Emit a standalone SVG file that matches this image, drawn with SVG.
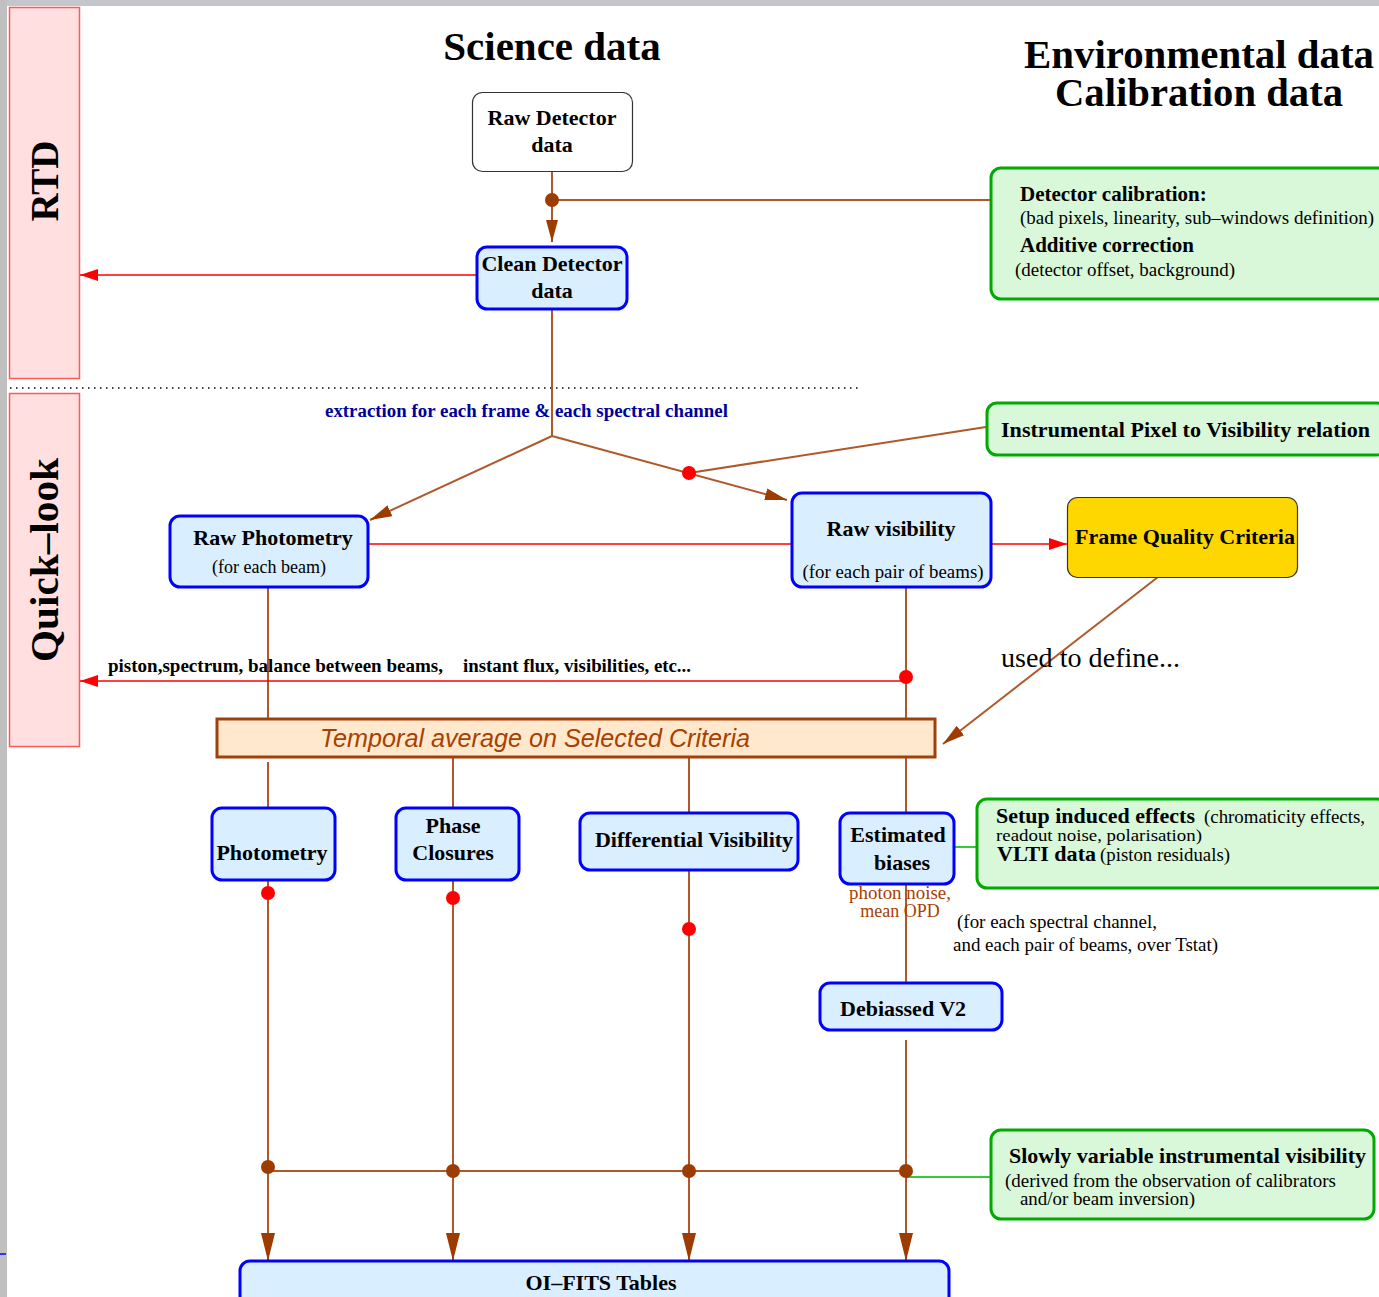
<svg xmlns="http://www.w3.org/2000/svg" width="1379" height="1297" viewBox="0 0 1379 1297">
<defs>
<style>
.bg{fill:#ffffff}
.side{fill:#ffdfdf;stroke:#ff5a5a;stroke-width:1.5}
.blue{fill:#d9eeff;stroke:#0000ff;stroke-width:3}
.green{fill:#d9f7d9;stroke:#00aa00;stroke-width:3}
.br{stroke:#b0582a;stroke-width:2;fill:none}
.red{stroke:#ff0000;stroke-width:1.5;fill:none}
.grn{stroke:#33cc33;stroke-width:2;fill:none}
.t{font-family:"Liberation Serif","Times New Roman",serif;fill:#000}
.b{font-weight:bold}
.dotb{fill:#9c3c00}
.dotr{fill:#ff0000}
</style>
<marker id="ab" markerWidth="28" markerHeight="14" refX="28" refY="7" orient="auto" markerUnits="userSpaceOnUse"><path d="M0,0 L28,7 L0,14 z" fill="#9c3c00"/></marker>
<marker id="abs" markerWidth="22" markerHeight="12" refX="22" refY="6" orient="auto" markerUnits="userSpaceOnUse"><path d="M0,0 L22,6 L0,12 z" fill="#9c3c00"/></marker>
<marker id="ar" markerWidth="18" markerHeight="12" refX="18" refY="6" orient="auto" markerUnits="userSpaceOnUse"><path d="M0,0 L18,6 L0,12 z" fill="#ff0000"/></marker>
</defs>
<rect class="bg" x="0" y="0" width="1379" height="1297"/>
<rect x="0" y="0" width="1379" height="6" fill="#c4c6cc"/>
<rect x="0" y="0" width="7" height="1297" fill="#c0c0c0"/>
<line x1="0" y1="1254" x2="6" y2="1254" stroke="#3333ff" stroke-width="2"/>

<g id="rtd">
<rect class="side" x="9.5" y="7.5" width="70" height="371"/>
<text class="t b" font-size="39" text-anchor="middle" transform="translate(58,181) rotate(-90)">RTD</text>
</g>
<line x1="10" y1="388" x2="862" y2="388" stroke="#000" stroke-width="1.5" stroke-dasharray="1.5,4.5"/>
<g id="quicklook">
<rect class="side" x="9.5" y="393.5" width="70" height="353"/>
<text class="t b" font-size="40" text-anchor="middle" transform="translate(58,560) rotate(-90)" textLength="204" lengthAdjust="spacingAndGlyphs">Quick–look</text>
</g>

<g id="titles">
<text class="t b" font-size="41" x="552" y="60" text-anchor="middle">Science data</text>
<text class="t b" font-size="40" x="1199" y="68" text-anchor="middle" textLength="350" lengthAdjust="spacingAndGlyphs">Environmental data</text>
<text class="t b" font-size="40" x="1199" y="106" text-anchor="middle" textLength="288" lengthAdjust="spacingAndGlyphs">Calibration data</text>
</g>

<g id="connectors">
<line class="br" x1="552" y1="171" x2="552" y2="242" marker-end="url(#abs)"/>
<line class="br" x1="552" y1="200" x2="990" y2="200"/>
<circle class="dotb" cx="552" cy="200" r="7"/>
<line class="red" x1="477" y1="275" x2="80" y2="275" marker-end="url(#ar)"/>
<line class="br" x1="552" y1="309" x2="552" y2="436"/>
<line class="br" x1="552" y1="436" x2="370" y2="520" marker-end="url(#abs)"/>
<line class="br" x1="552" y1="436" x2="787" y2="500" marker-end="url(#abs)"/>
<line class="br" x1="689" y1="473" x2="986" y2="427"/>
<circle class="dotr" cx="689" cy="473" r="7"/>
<line class="red" x1="368" y1="544" x2="792" y2="544"/>
<line class="red" x1="991" y1="544" x2="1067" y2="544" marker-end="url(#ar)"/>
<line class="br" x1="1158" y1="577" x2="943" y2="744" marker-end="url(#abs)"/>
<line class="br" x1="268" y1="587" x2="268" y2="719"/>
<line class="br" x1="906" y1="587" x2="906" y2="719"/>
<line class="red" x1="906" y1="681" x2="80" y2="681" marker-end="url(#ar)"/>
<circle class="dotr" cx="906" cy="677" r="7"/>
<line class="br" x1="268" y1="762" x2="268" y2="808"/>
<line class="br" x1="453" y1="757" x2="453" y2="808"/>
<line class="br" x1="689" y1="757" x2="689" y2="813"/>
<line class="br" x1="906" y1="757" x2="906" y2="813"/>
<line class="grn" x1="954" y1="847" x2="977" y2="847"/>
<line class="br" x1="906" y1="884" x2="906" y2="983"/>
<line class="br" x1="268" y1="880" x2="268" y2="1261" marker-end="url(#ab)"/>
<line class="br" x1="453" y1="880" x2="453" y2="1261" marker-end="url(#ab)"/>
<line class="br" x1="689" y1="870" x2="689" y2="1261" marker-end="url(#ab)"/>
<line class="br" x1="906" y1="1040" x2="906" y2="1261" marker-end="url(#ab)"/>
<line class="br" x1="268" y1="1171" x2="906" y2="1171"/>
<line class="grn" x1="906" y1="1177" x2="990" y2="1177"/>
<circle class="dotr" cx="268" cy="893" r="7"/>
<circle class="dotr" cx="453" cy="898" r="7"/>
<circle class="dotr" cx="689" cy="929" r="7"/>
<circle class="dotb" cx="268" cy="1167" r="7"/>
<circle class="dotb" cx="453" cy="1171" r="7"/>
<circle class="dotb" cx="689" cy="1171" r="7"/>
<circle class="dotb" cx="906" cy="1171" r="7"/>
</g>

<text class="t b" font-size="18" x="325" y="417" style="fill:#000099" textLength="403" lengthAdjust="spacingAndGlyphs">extraction for each frame &amp; each spectral channel</text>
<text class="t b" font-size="18" x="108" y="672" textLength="335" lengthAdjust="spacingAndGlyphs">piston,spectrum, balance between beams,</text>
<text class="t b" font-size="18" x="463" y="672" textLength="228" lengthAdjust="spacingAndGlyphs">instant flux, visibilities, etc...</text>
<text class="t" font-size="28" x="1001" y="667" textLength="179" lengthAdjust="spacingAndGlyphs">used to define...</text>

<g id="raw-detector">
<rect x="472.5" y="92.5" width="160" height="79" rx="10" fill="#ffffff" stroke="#333" stroke-width="1.2"/>
<text class="t b" font-size="22" x="552" y="125" text-anchor="middle">Raw Detector</text>
<text class="t b" font-size="22" x="552" y="152" text-anchor="middle">data</text>
</g>
<g id="clean-detector">
<rect class="blue" x="477" y="247" width="150" height="62" rx="10"/>
<text class="t b" font-size="22" x="552" y="271" text-anchor="middle">Clean Detector</text>
<text class="t b" font-size="22" x="552" y="298" text-anchor="middle">data</text>
</g>
<g id="detector-calibration">
<rect class="green" x="991" y="168" width="400" height="131" rx="10"/>
<text class="t b" font-size="21" x="1020" y="201">Detector calibration:</text>
<text class="t" font-size="18" x="1020" y="224" textLength="354" lengthAdjust="spacingAndGlyphs">(bad pixels, linearity, sub–windows definition)</text>
<text class="t b" font-size="21" x="1020" y="252">Additive correction</text>
<text class="t" font-size="18" x="1015" y="276" textLength="220" lengthAdjust="spacingAndGlyphs">(detector offset, background)</text>
</g>
<g id="pixel-visibility">
<rect class="green" x="987" y="403" width="400" height="52" rx="10"/>
<text class="t b" font-size="21" x="1001" y="437" textLength="369" lengthAdjust="spacingAndGlyphs">Instrumental Pixel to Visibility relation</text>
</g>
<g id="raw-photometry">
<rect class="blue" x="170" y="516" width="198" height="71" rx="10"/>
<text class="t b" font-size="22" x="273" y="545" text-anchor="middle">Raw Photometry</text>
<text class="t" font-size="18" x="269" y="573" text-anchor="middle">(for each beam)</text>
</g>
<g id="raw-visibility">
<rect class="blue" x="792" y="493" width="199" height="94" rx="10"/>
<text class="t b" font-size="22" x="891" y="536" text-anchor="middle">Raw visibility</text>
<text class="t" font-size="18" x="893" y="578" text-anchor="middle" textLength="181" lengthAdjust="spacingAndGlyphs">(for each pair of beams)</text>
</g>
<g id="frame-quality">
<rect x="1067.5" y="497.5" width="230" height="80" rx="10" fill="#ffd700" stroke="#333" stroke-width="1.2"/>
<text class="t b" font-size="21" x="1185" y="544" text-anchor="middle" textLength="220" lengthAdjust="spacingAndGlyphs">Frame Quality Criteria</text>
</g>
<g id="temporal-average">
<rect x="217" y="719" width="718" height="38" fill="#ffe8cc" stroke="#a0400a" stroke-width="3"/>
<text font-family="Liberation Sans, Arial, sans-serif" font-style="italic" font-size="25" x="535" y="747" text-anchor="middle" fill="#a84000" textLength="430" lengthAdjust="spacingAndGlyphs">Temporal average on Selected Criteria</text>
</g>
<g id="photometry">
<rect class="blue" x="212" y="808" width="123" height="72" rx="10"/>
<text class="t b" font-size="22" x="272" y="860" text-anchor="middle">Photometry</text>
</g>
<g id="phase-closures">
<rect class="blue" x="396" y="808" width="123" height="72" rx="10"/>
<text class="t b" font-size="22" x="453" y="833" text-anchor="middle">Phase</text>
<text class="t b" font-size="22" x="453" y="860" text-anchor="middle">Closures</text>
</g>
<g id="differential-visibility">
<rect class="blue" x="580" y="813" width="218" height="57" rx="10"/>
<text class="t b" font-size="22" x="694" y="847" text-anchor="middle">Differential Visibility</text>
</g>
<g id="estimated-biases">
<rect class="blue" x="840" y="813" width="114" height="71" rx="10"/>
<text class="t b" font-size="22" x="898" y="842" text-anchor="middle">Estimated</text>
<text class="t b" font-size="22" x="902" y="870" text-anchor="middle">biases</text>
</g>
<text class="t" font-size="18" x="900" y="899" text-anchor="middle" style="fill:#a84000" textLength="102" lengthAdjust="spacingAndGlyphs">photon noise,</text>
<text class="t" font-size="18" x="900" y="917" text-anchor="middle" style="fill:#a84000">mean OPD</text>
<text class="t" font-size="18" x="957" y="928" textLength="200" lengthAdjust="spacingAndGlyphs">(for each spectral channel,</text>
<text class="t" font-size="18" x="953" y="951" textLength="265" lengthAdjust="spacingAndGlyphs">and each pair of beams, over Tstat)</text>
<g id="setup-effects">
<rect class="green" x="977" y="799" width="410" height="89" rx="10"/>
<text class="t b" font-size="21" x="996" y="823" textLength="199" lengthAdjust="spacingAndGlyphs">Setup induced effects</text>
<text class="t" font-size="18" x="1204" y="823" textLength="161" lengthAdjust="spacingAndGlyphs">(chromaticity effects,</text>
<text class="t" font-size="17" x="996" y="841" textLength="206" lengthAdjust="spacingAndGlyphs">readout noise, polarisation)</text>
<text class="t b" font-size="21" x="997" y="861" textLength="99" lengthAdjust="spacingAndGlyphs">VLTI data</text>
<text class="t" font-size="18" x="1100" y="861" textLength="130" lengthAdjust="spacingAndGlyphs">(piston residuals)</text>
</g>
<g id="debiassed-v2">
<rect class="blue" x="820" y="983" width="182" height="47" rx="10"/>
<text class="t b" font-size="22" x="840" y="1016">Debiassed V2</text>
</g>
<g id="slowly-variable">
<rect class="green" x="991" y="1130" width="383" height="89" rx="10"/>
<text class="t b" font-size="21" x="1009" y="1163" textLength="357" lengthAdjust="spacingAndGlyphs">Slowly variable instrumental visibility</text>
<text class="t" font-size="18" x="1005" y="1187" textLength="331" lengthAdjust="spacingAndGlyphs">(derived from the observation of calibrators</text>
<text class="t" font-size="18" x="1020" y="1205" textLength="175" lengthAdjust="spacingAndGlyphs">and/or beam inversion)</text>
</g>
<g id="oi-fits">
<rect class="blue" x="240" y="1261" width="709" height="60" rx="10"/>
<text class="t b" font-size="22" x="601" y="1290" text-anchor="middle">OI–FITS Tables</text>
</g>
</svg>
